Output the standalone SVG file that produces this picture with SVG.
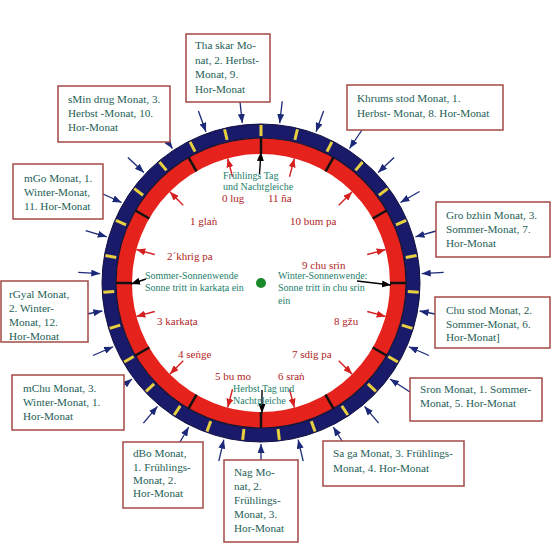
<svg xmlns="http://www.w3.org/2000/svg" xmlns:xlink="http://www.w3.org/1999/xlink" width="556" height="549" viewBox="0 0 556 549">
<style>
.box rect{fill:#fff;stroke:#a44a44;stroke-width:1.5}
.box text{font-family:"Liberation Serif","Times New Roman",serif;font-size:11.2px;fill:#1e5e56}
.lbl{font-family:"Liberation Serif","Times New Roman",serif;font-size:11px;fill:#b02424}
.grn{font-family:"Liberation Serif","Times New Roman",serif;font-size:10px;fill:#24806c}
.yt{stroke:#e6d040;stroke-width:3}
.dv{stroke:#111;stroke-width:2.5}
.ba{stroke:#1c2878;stroke-width:1.3;fill:none;marker-end:url(#mb)}
.ra{stroke:#d42020;stroke-width:1.4;fill:none;marker-end:url(#mr)}
.ka{stroke:#000;stroke-width:1.4;fill:none;marker-end:url(#mk)}
</style>
<defs>
<marker id="mb" markerUnits="userSpaceOnUse" markerWidth="9" markerHeight="7" refX="9" refY="3.5" orient="auto"><path d="M0,0 L9,3.5 L0,7 z" fill="#1c2878"/></marker>
<marker id="mr" markerUnits="userSpaceOnUse" markerWidth="9" markerHeight="7" refX="9" refY="3.5" orient="auto"><path d="M0,0 L9,3.5 L0,7 z" fill="#d42020"/></marker>
<marker id="mk" markerUnits="userSpaceOnUse" markerWidth="9" markerHeight="7" refX="9" refY="3.5" orient="auto"><path d="M0,0 L9,3.5 L0,7 z" fill="#000"/></marker>
<line id="yt" class="yt" x1="261" y1="125" x2="261" y2="136"/>
<line id="dv" class="dv" x1="261" y1="138" x2="261" y2="154"/>
<line id="ba" class="ba" x1="261" y1="100" x2="261" y2="122"/>
<line id="ra" class="ra" x1="261" y1="173" x2="261" y2="154"/>
</defs>
<rect width="556" height="549" fill="#fff"/>

<g id="wheel">
<circle cx="261" cy="283" r="152" fill="none" stroke="#1a1a6a" stroke-width="14"/>
<circle cx="261" cy="283" r="137" fill="none" stroke="#e6221c" stroke-width="16"/>
<circle cx="261" cy="283" r="145" fill="none" stroke="#151530" stroke-width="1.2"/>
<circle cx="261" cy="283" r="159" fill="none" stroke="#101040" stroke-width="1"/>
<g id="yellow-ticks">
<use href="#yt"/>
<use href="#yt" transform="rotate(13.333 261 283)"/>
<use href="#yt" transform="rotate(26.667 261 283)"/>
<use href="#yt" transform="rotate(40 261 283)"/>
<use href="#yt" transform="rotate(53.333 261 283)"/>
<use href="#yt" transform="rotate(66.667 261 283)"/>
<use href="#yt" transform="rotate(80 261 283)"/>
<use href="#yt" transform="rotate(93.333 261 283)"/>
<use href="#yt" transform="rotate(106.667 261 283)"/>
<use href="#yt" transform="rotate(120 261 283)"/>
<use href="#yt" transform="rotate(133.333 261 283)"/>
<use href="#yt" transform="rotate(146.667 261 283)"/>
<use href="#yt" transform="rotate(160 261 283)"/>
<use href="#yt" transform="rotate(173.333 261 283)"/>
<use href="#yt" transform="rotate(186.667 261 283)"/>
<use href="#yt" transform="rotate(200 261 283)"/>
<use href="#yt" transform="rotate(213.333 261 283)"/>
<use href="#yt" transform="rotate(226.667 261 283)"/>
<use href="#yt" transform="rotate(240 261 283)"/>
<use href="#yt" transform="rotate(253.333 261 283)"/>
<use href="#yt" transform="rotate(266.667 261 283)"/>
<use href="#yt" transform="rotate(280 261 283)"/>
<use href="#yt" transform="rotate(293.333 261 283)"/>
<use href="#yt" transform="rotate(306.667 261 283)"/>
<use href="#yt" transform="rotate(320 261 283)"/>
<use href="#yt" transform="rotate(333.333 261 283)"/>
<use href="#yt" transform="rotate(346.667 261 283)"/>
</g>
<g id="dividers">
<use href="#dv"/>
<use href="#dv" transform="rotate(30 261 283)"/>
<use href="#dv" transform="rotate(60 261 283)"/>
<use href="#dv" transform="rotate(90 261 283)"/>
<use href="#dv" transform="rotate(120 261 283)"/>
<use href="#dv" transform="rotate(150 261 283)"/>
<use href="#dv" transform="rotate(180 261 283)"/>
<use href="#dv" transform="rotate(210 261 283)"/>
<use href="#dv" transform="rotate(240 261 283)"/>
<use href="#dv" transform="rotate(270 261 283)"/>
<use href="#dv" transform="rotate(300 261 283)"/>
<use href="#dv" transform="rotate(330 261 283)"/>
</g>
<circle id="center" cx="261" cy="283" r="5" fill="#1a8a2a"/>
</g>

<g id="connectors">
<use href="#ba" transform="rotate(6.667 261 283)"/>
<use href="#ba" transform="rotate(20 261 283)"/>
<use href="#ba" transform="rotate(46.667 261 283)"/>
<use href="#ba" transform="rotate(60 261 283)"/>
<use href="#ba" transform="rotate(86.667 261 283)"/>
<use href="#ba" transform="rotate(113.333 261 283)"/>
<use href="#ba" transform="rotate(140 261 283)"/>
<use href="#ba" transform="rotate(166.667 261 283)"/>
<use href="#ba" transform="rotate(193.333 261 283)"/>
<use href="#ba" transform="rotate(220 261 283)"/>
<use href="#ba" transform="rotate(246.667 261 283)"/>
<use href="#ba" transform="rotate(273.333 261 283)"/>
<use href="#ba" transform="rotate(286.667 261 283)"/>
<use href="#ba" transform="rotate(313.333 261 283)"/>
<use href="#ba" transform="rotate(340 261 283)"/>
<line class="ba" x1="362" y1="130" x2="349.5" y2="148.5"/>
<line class="ba" x1="436" y1="231" x2="415.5" y2="236.8"/>
<line class="ba" x1="435" y1="314" x2="419.6" y2="311"/>
<line class="ba" x1="410" y1="392" x2="390" y2="379"/>
<line class="ba" x1="342" y1="441" x2="333.3" y2="427"/>
<line class="ba" x1="261" y1="460" x2="261" y2="444"/>
<line class="ba" x1="180" y1="442" x2="188.7" y2="427"/>
<line class="ba" x1="116" y1="391.5" x2="132" y2="379"/>
<line class="ba" x1="82" y1="315" x2="102.4" y2="311"/>
<line class="ba" x1="103" y1="194" x2="121.6" y2="202.5"/>
<line class="ba" x1="160" y1="131" x2="172.5" y2="148.5"/>
<line class="ba" x1="240" y1="102" x2="242.3" y2="123"/>
<use href="#ra" transform="rotate(15 261 283)"/>
<use href="#ra" transform="rotate(45 261 283)"/>
<use href="#ra" transform="rotate(75 261 283)"/>
<use href="#ra" transform="rotate(105 261 283)"/>
<use href="#ra" transform="rotate(135 261 283)"/>
<use href="#ra" transform="rotate(165 261 283)"/>
<use href="#ra" transform="rotate(195 261 283)"/>
<use href="#ra" transform="rotate(225 261 283)"/>
<use href="#ra" transform="rotate(255 261 283)"/>
<use href="#ra" transform="rotate(285 261 283)"/>
<use href="#ra" transform="rotate(315 261 283)"/>
<use href="#ra" transform="rotate(345 261 283)"/>
<line class="ka" x1="259.5" y1="174" x2="261" y2="152"/>
<line class="ka" x1="262" y1="390" x2="262" y2="413"/>
<line class="ka" x1="146" y1="279" x2="131" y2="284"/>
<line class="ka" x1="357" y1="281" x2="391" y2="285"/>
</g>

<g id="sign-labels">
<text class="lbl" x="222" y="202">0 lug</text>
<text class="lbl" x="268" y="202">11 ña</text>
<text class="lbl" x="190" y="225">1 glaṅ</text>
<text class="lbl" x="290" y="225">10 bum pa</text>
<text class="lbl" x="167" y="260">2´khrig pa</text>
<text class="lbl" x="302" y="269">9 chu srin</text>
<text class="lbl" x="157" y="325">3 karkaṭa</text>
<text class="lbl" x="334" y="325">8 gžu</text>
<text class="lbl" x="178" y="358">4 seṅge</text>
<text class="lbl" x="292" y="358">7 sdig pa</text>
<text class="lbl" x="215" y="379.5">5 bu mo</text>
<text class="lbl" x="278" y="379.5">6 sraṅ</text>
</g>
<g id="event-labels">
<text class="grn" x="223" y="178.5">Frühlings Tag</text>
<text class="grn" x="223" y="189.5">und Nachtgleiche</text>
<text class="grn" x="145" y="278.5">Sommer-Sonnenwende</text>
<text class="grn" x="145" y="291">Sonne tritt in karkaṭa ein</text>
<text class="grn" x="278" y="278.5">Winter-Sonnenwende:</text>
<text class="grn" x="278" y="291">Sonne tritt in chu srin</text>
<text class="grn" x="278" y="304">ein</text>
<text class="grn" x="233" y="392">Herbst Tag und</text>
<text class="grn" x="233" y="403.5">Nachtgleiche</text>
</g>

<g id="box-tha-skar" class="box"><rect x="186" y="34" width="84" height="68"/><text><tspan x="195" y="49">Tha skar Mo-</tspan><tspan x="195" y="64">nat, 2. Herbst-</tspan><tspan x="195" y="78">Monat, 9.</tspan><tspan x="195" y="92.5">Hor-Monat</tspan></text></g>
<g id="box-khrums-stod" class="box"><rect x="347" y="85" width="156" height="45"/><text><tspan x="357" y="102">Khrums stod Monat, 1.</tspan><tspan x="357" y="116.5">Herbst- Monat, 8. Hor-Monat</tspan></text></g>
<g id="box-smin-drug" class="box"><rect x="58" y="86" width="112" height="56"/><text><tspan x="68" y="103">sMin drug Monat, 3.</tspan><tspan x="68" y="117">Herbst -Monat, 10.</tspan><tspan x="68" y="131">Hor-Monat</tspan></text></g>
<g id="box-mgo" class="box"><rect x="13" y="164" width="90" height="55"/><text><tspan x="24" y="182">mGo Monat, 1.</tspan><tspan x="24" y="196">Winter-Monat,</tspan><tspan x="24" y="210">11. Hor-Monat</tspan></text></g>
<g id="box-gro-bzhin" class="box"><rect x="436" y="202" width="114" height="55"/><text><tspan x="446" y="219">Gro bzhin Monat, 3.</tspan><tspan x="446" y="233">Sommer-Monat, 7.</tspan><tspan x="446" y="247">Hor-Monat</tspan></text></g>
<g id="box-rgyal" class="box"><rect x="1" y="281" width="87" height="61"/><text><tspan x="9" y="298">rGyal Monat,</tspan><tspan x="9" y="312">2. Winter-</tspan><tspan x="9" y="326">Monat, 12.</tspan><tspan x="9" y="339.5">Hor-Monat</tspan></text></g>
<g id="box-chu-stod" class="box"><rect x="435" y="297" width="115" height="51"/><text><tspan x="446" y="314">Chu stod Monat, 2.</tspan><tspan x="446" y="327.5">Sommer-Monat, 6.</tspan><tspan x="446" y="341">Hor-Monat]</tspan></text></g>
<g id="box-sron" class="box"><rect x="410" y="378" width="132" height="43"/><text><tspan x="420" y="393">Sron Monat, 1. Sommer-</tspan><tspan x="420" y="407">Monat, 5. Hor-Monat</tspan></text></g>
<g id="box-sa-ga" class="box"><rect x="323" y="441" width="141" height="45"/><text><tspan x="333" y="457">Sa ga Monat, 3. Frühlings-</tspan><tspan x="333" y="472">Monat, 4. Hor-Monat</tspan></text></g>
<g id="box-dbo" class="box"><rect x="123" y="442" width="80" height="66"/><text><tspan x="133" y="457">dBo Monat,</tspan><tspan x="133" y="471">1. Frühlings-</tspan><tspan x="133" y="484">Monat, 2.</tspan><tspan x="133" y="497">Hor-Monat</tspan></text></g>
<g id="box-nag" class="box"><rect x="224" y="460" width="74" height="82"/><text><tspan x="234" y="476">Nag Mo-</tspan><tspan x="234" y="490">nat, 2.</tspan><tspan x="234" y="504">Frühlings-</tspan><tspan x="234" y="518">Monat, 3.</tspan><tspan x="234" y="532">Hor-Monat</tspan></text></g>
<g id="box-mchu" class="box"><rect x="12" y="375" width="112" height="55"/><text><tspan x="23" y="392">mChu Monat, 3.</tspan><tspan x="23" y="406">Winter-Monat, 1.</tspan><tspan x="23" y="420">Hor-Monat</tspan></text></g>
</svg>
